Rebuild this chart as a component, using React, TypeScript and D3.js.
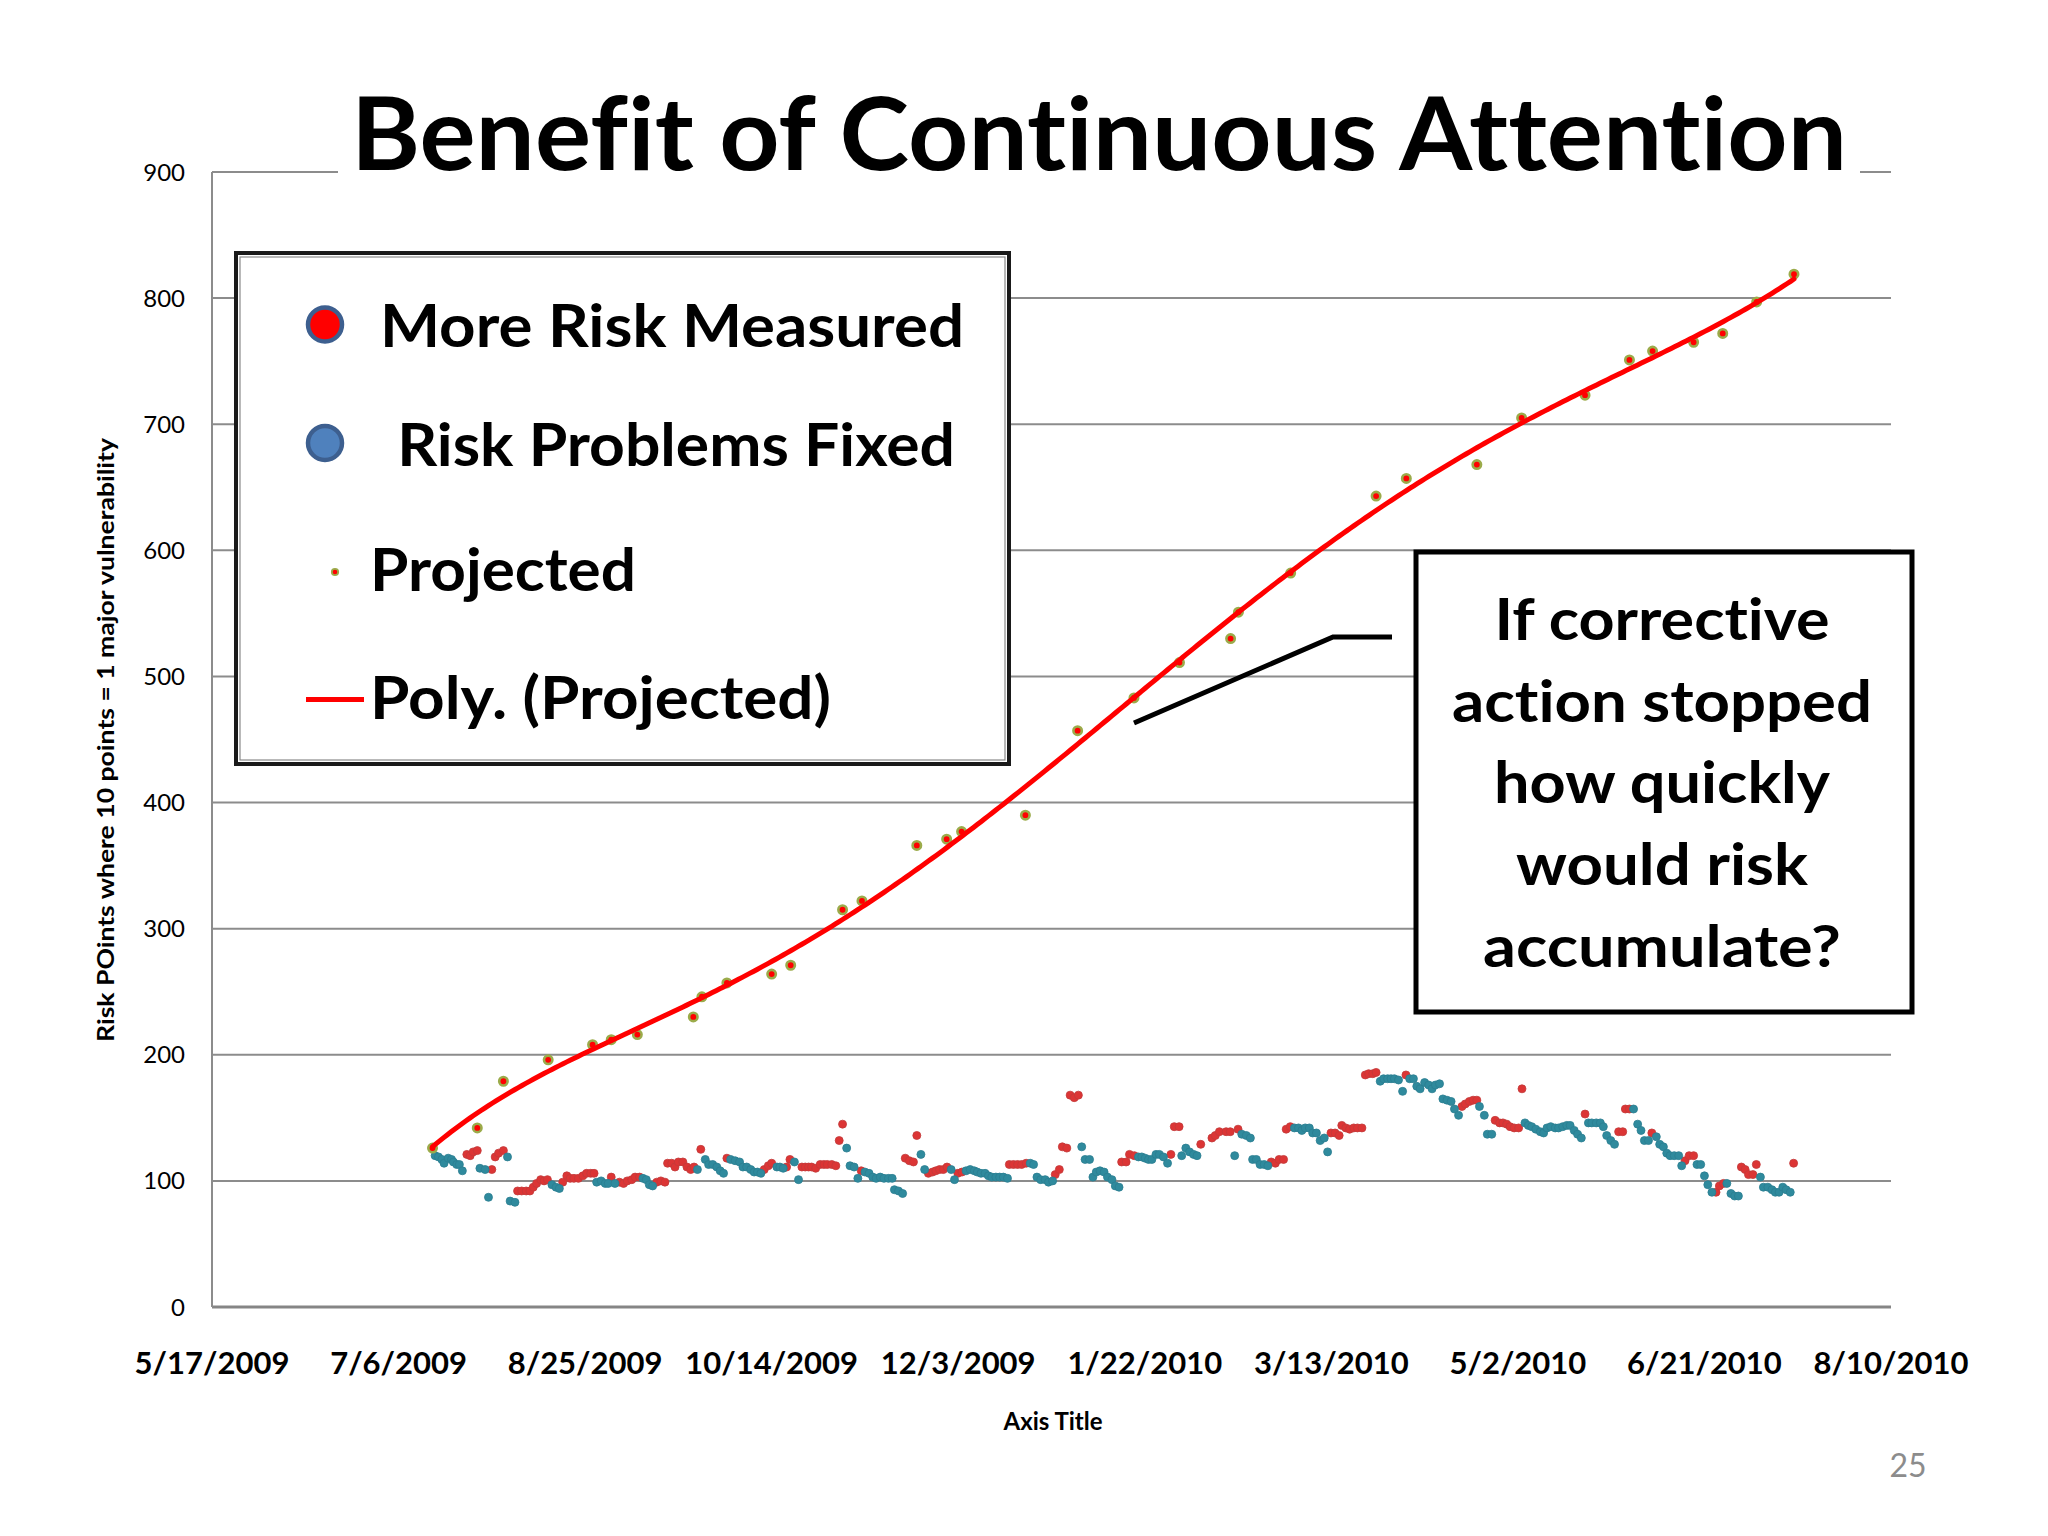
import { useRef, useEffect } from 'react';
import * as d3 from 'd3';

// days counted from 5/17/2009 (first x tick)
const START = Date.UTC(2009, 4, 17);
const DAY_MS = 864e5;
const dayToDate = (d: number) => new Date(START + d * DAY_MS);

const xTickLabels = ['5/17/2009', '7/6/2009', '8/25/2009', '10/14/2009', '12/3/2009', '1/22/2010', '3/13/2010', '5/2/2010', '6/21/2010', '8/10/2010'];
const yTicks = [0, 100, 200, 300, 400, 500, 600, 700, 800, 900];

const legendLabels = ['More Risk Measured', ' Risk Problems Fixed', 'Projected', 'Poly. (Projected)'];
const calloutLines = ['If corrective', 'action stopped', 'how quickly', 'would risk', 'accumulate?'];

// [day, risk points]
const moreRiskMeasured: [number, number][] = [
  [68.3, 121], [69.2, 120], [70.0, 123], [71.1, 124], [75.0, 109], [75.9, 119], [76.8, 122], [78.1, 124],
  [81.9, 92], [83.0, 92], [84.2, 92], [85.2, 92], [86.1, 95], [87.0, 98], [88.1, 101], [89.0, 100], [89.9, 101],
  [94.0, 99], [95.1, 104], [96.0, 102], [97.0, 102], [98.2, 102], [99.4, 104], [100.4, 106], [101.5, 106], [102.4, 106],
  [107.0, 103], [109.2, 99], [110.3, 98], [111.3, 100], [112.5, 101], [113.4, 103], [114.6, 103],
  [119.2, 99], [120.3, 100], [121.4, 99], [122.1, 114], [123.2, 114], [124.1, 111], [125.0, 115], [126.2, 115],
  [127.3, 111], [128.3, 109], [129.2, 111], [131.0, 125], [138.0, 118], [148.0, 109], [149.1, 112], [150.0, 114],
  [154.0, 111], [154.9, 117], [158.1, 111], [159.0, 111], [159.9, 111], [160.7, 111], [161.8, 110], [163.0, 113],
  [164.0, 113], [164.9, 113], [166.1, 113], [167.2, 112], [168.1, 132], [169.0, 145], [174.0, 108],
  [185.8, 118], [186.9, 116], [188.0, 115], [188.9, 136], [192.0, 106], [193.1, 107], [194.0, 108], [195.0, 109],
  [196.0, 109], [197.0, 111], [199.9, 106], [201.0, 107], [213.7, 113], [214.8, 113], [215.9, 113], [217.0, 113],
  [218.2, 114], [226.0, 105], [227.1, 109], [227.9, 127], [229.1, 126], [230.0, 168], [231.1, 166], [232.2, 168],
  [243.8, 115], [245.0, 115], [245.9, 121], [247.2, 120], [257.0, 121], [257.9, 143], [259.2, 143],
  [265.0, 129], [268.0, 134], [268.9, 136], [270.0, 139], [271.8, 139], [272.9, 139], [275.0, 141],
  [283.9, 115], [285.0, 114], [286.0, 117], [287.2, 117], [287.9, 141], [289.0, 143],
  [299.9, 138], [301.0, 138], [302.1, 136], [302.8, 144], [303.9, 142], [304.9, 141], [306.0, 142], [307.0, 142],
  [308.2, 142], [309.1, 184], [310.0, 185], [311.1, 185], [312.0, 186], [320.0, 184],
  [335.0, 159], [335.9, 161], [337.0, 163], [338.0, 164], [339.0, 164],
  [343.9, 148], [345.1, 146], [346.0, 146], [347.0, 145], [347.9, 143], [349.0, 142], [350.2, 142], [351.1, 173],
  [368.0, 153], [377.0, 139], [378.1, 139], [378.8, 157], [379.9, 157], [385.9, 138], [394.8, 116], [395.9, 120],
  [397.1, 120], [403.1, 91], [404.0, 96], [405.1, 98], [409.9, 111], [410.9, 109], [411.8, 105], [413.0, 105],
  [413.9, 113], [423.9, 114],
];

const riskProblemsFixed: [number, number][] = [
  [59.8, 120], [60.7, 119], [61.6, 117], [62.2, 114], [63.3, 118], [64.2, 117], [64.7, 115], [65.6, 113], [66.3, 113],
  [67.1, 108], [71.8, 110], [73.2, 109], [74.1, 87], [79.2, 119], [79.9, 84], [81.2, 83], [91.1, 97], [92.2, 95],
  [93.1, 94], [103.1, 99], [104.3, 100], [105.4, 98], [106.2, 98], [108.0, 98], [115.5, 102], [116.4, 101], [117.2, 97],
  [118.1, 96], [130.1, 109], [132.2, 117], [133.1, 113], [134.2, 113], [135.3, 111], [136.2, 108], [137.1, 106],
  [139.0, 117], [140.2, 116], [141.4, 115], [142.3, 111], [143.3, 111], [144.4, 109], [145.3, 107], [146.2, 107],
  [147.1, 106], [151.4, 111], [152.2, 111], [153.1, 110], [156.1, 115], [157.2, 101], [170.1, 126], [171.0, 112],
  [172.1, 111], [173.1, 102], [175.0, 107], [176.1, 106], [177.1, 103], [178.0, 102], [179.1, 103], [180.1, 102],
  [181.3, 102], [182.3, 102], [182.9, 93], [184.0, 92], [185.1, 90], [190.0, 121], [191.0, 109], [198.1, 109],
  [199.0, 101], [202.1, 108], [203.2, 109], [204.3, 108], [205.1, 107], [206.1, 106], [207.2, 106], [208.1, 104],
  [209.0, 103], [210.1, 103], [211.1, 103], [212.1, 103], [213.2, 102], [219.3, 114], [220.2, 113], [221.1, 103],
  [222.1, 101], [223.3, 101], [224.2, 99], [225.3, 100], [233.1, 127], [234.0, 117], [235.2, 117], [236.1, 103],
  [237.0, 107], [238.0, 108], [239.1, 107], [240.0, 103], [241.2, 101], [242.1, 96], [243.1, 95],
  [248.3, 119], [249.2, 119], [250.1, 118], [251.0, 117], [251.9, 117], [253.0, 121], [253.9, 121], [255.0, 119],
  [256.1, 114], [259.9, 120], [261.0, 126], [262.0, 123], [263.1, 121], [264.0, 120], [274.1, 120], [276.0, 137],
  [277.2, 136], [278.3, 134], [278.9, 117], [279.9, 117], [280.9, 113], [282.0, 113], [283.0, 112], [290.1, 142],
  [291.2, 142], [292.1, 140], [293.0, 142], [294.1, 142], [295.0, 138], [296.0, 138], [297.0, 132], [298.1, 134],
  [299.0, 123], [313.1, 179], [314.0, 181], [315.1, 181], [316.0, 181], [316.9, 181], [318.0, 180], [319.1, 171],
  [321.0, 181], [322.0, 181], [322.9, 175], [323.8, 173], [325.0, 178], [326.1, 176], [327.0, 173], [327.9, 176],
  [329.0, 177], [329.9, 165], [331.0, 164], [332.1, 163], [333.0, 157], [334.1, 152], [339.7, 159],
  [341.0, 152], [341.8, 137], [343.0, 137], [351.9, 146], [352.8, 144], [353.7, 143], [354.8, 141], [356.0, 139],
  [356.9, 138], [357.8, 142], [358.8, 143], [360.0, 142], [360.9, 142], [362.0, 143], [363.1, 144], [364.0, 144],
  [365.1, 140], [366.0, 137], [367.0, 134], [368.9, 146], [369.8, 146], [371.0, 146], [372.1, 146], [372.9, 143],
  [373.8, 136], [374.9, 132], [375.9, 129], [381.0, 157], [382.1, 145], [383.0, 140], [383.9, 132], [385.0, 132],
  [387.1, 135], [388.0, 129], [389.0, 127], [389.9, 122], [390.8, 120], [391.9, 120], [393.1, 120], [393.9, 112],
  [398.0, 113], [399.0, 113], [400.0, 104], [400.9, 97], [402.0, 91], [406.0, 98], [407.1, 90], [408.1, 88],
  [409.1, 88], [415.0, 103], [415.8, 95], [417.0, 95], [418.1, 93], [419.0, 91], [420.0, 91], [421.0, 95],
  [421.9, 93], [423.0, 91],
];

const projectedDays = [59.1, 71.1, 78.1, 90.1, 102.0, 107.0, 114.0, 129.0, 131.3, 138.0, 150.0, 155.1, 169.0, 174.2,
  188.9, 196.9, 200.9, 218.0, 232.0, 247.1, 259.3, 273.0, 275.1, 289.1, 312.0, 320.1, 339.0, 351.0, 368.0, 379.9,
  386.1, 397.1, 404.9, 414.0, 424.0];
const projectedValues = [126, 142, 179, 196, 208, 212, 216, 230, 246, 257, 264, 271, 315, 322, 366, 371, 377, 390,
  457, 483, 511, 530, 551, 582, 643, 657, 668, 705, 723, 751, 758, 765, 772, 797, 819];

const FONT = 'Lato, "Open Sans", sans-serif';

// least squares polynomial, like the Excel "Poly." trendline (order 6)
function polyFit(xs: number[], ys: number[], order: number) {
  const n = order + 1;
  const A = Array.from({ length: n }, () => new Array(n + 1).fill(0));
  xs.forEach((x, k) => {
    for (let i = 0; i < n; i++) {
      for (let j = 0; j < n; j++) A[i][j] += Math.pow(x, i + j);
      A[i][n] += Math.pow(x, i) * ys[k];
    }
  });
  for (let c = 0; c < n; c++) {
    let p = c;
    for (let r = c + 1; r < n; r++) if (Math.abs(A[r][c]) > Math.abs(A[p][c])) p = r;
    [A[c], A[p]] = [A[p], A[c]];
    for (let r = 0; r < n; r++) {
      if (r === c) continue;
      const f = A[r][c] / A[c][c];
      for (let k = c; k <= n; k++) A[r][k] -= f * A[c][k];
    }
  }
  return A.map((row, i) => row[n] / row[i]);
}

export default function App() {
  const svgRef = useRef<SVGSVGElement>(null);

  useEffect(() => {
    if (!svgRef.current) return;
    const W = 2048, H = 1536;
    const left = 212, right = 1891, top = 172, bottom = 1307;

    const svg = d3.select(svgRef.current);
    svg.selectAll('*').remove();
    svg.attr('width', W).attr('height', H)
      .style('font-variant-ligatures', 'none')
      .style('font-feature-settings', '"liga" 0, "clig" 0');

    svg.append('rect').attr('width', W).attr('height', H).attr('fill', '#fff');

    const parse = d3.utcParse('%m/%d/%Y');
    const tickDates = xTickLabels.map(l => parse(l) as Date);

    const x = d3.scaleUtc()
      .domain([tickDates[0], tickDates[tickDates.length - 1]])
      .range([left, right]);
    const y = d3.scaleLinear().domain([0, 900]).range([bottom, top]);

    // gridlines
    yTicks.forEach(t => {
      svg.append('line')
        .attr('x1', left).attr('x2', right)
        .attr('y1', y(t)).attr('y2', y(t))
        .attr('stroke', t === 0 ? '#858585' : '#8c8c8c')
        .attr('stroke-width', t === 0 ? 3 : 2);
    });
    svg.append('line')
      .attr('x1', left).attr('x2', left)
      .attr('y1', y(900)).attr('y2', y(0))
      .attr('stroke', '#8c8c8c').attr('stroke-width', 2);

    // y tick labels
    yTicks.forEach(t => {
      svg.append('text')
        .attr('x', 185).attr('y', y(t) + 8.5)
        .attr('text-anchor', 'end')
        .attr('font-family', FONT).attr('font-size', 24)
        .attr('fill', '#000')
        .text(t);
    });

    // x tick labels
    tickDates.forEach((d, i) => {
      svg.append('text')
        .attr('x', x(d)).attr('y', 1374)
        .attr('text-anchor', 'middle')
        .attr('font-family', FONT).attr('font-size', 31).attr('font-weight', 700)
        .text(xTickLabels[i]);
    });

    svg.append('text')
      .attr('x', 1053).attr('y', 1430)
      .attr('text-anchor', 'middle')
      .attr('font-family', FONT).attr('font-size', 24).attr('font-weight', 700)
      .text('Axis Title');

    svg.append('text')
      .attr('transform', 'translate(114,740) rotate(-90)')
      .attr('text-anchor', 'middle')
      .attr('font-family', FONT).attr('font-size', 22.5).attr('font-weight', 700)
      .attr('textLength', 604).attr('lengthAdjust', 'spacingAndGlyphs')
      .text('Risk POints where 10 points = 1 major vulnerability');

    // title over the top gridline
    svg.append('rect').attr('x', 338).attr('y', 80).attr('width', 1522).attr('height', 100).attr('fill', '#fff');
    svg.append('text')
      .attr('x', 351).attr('y', 170)
      .attr('font-family', FONT).attr('font-size', 102).attr('font-weight', 700)
      .attr('textLength', 1496).attr('lengthAdjust', 'spacingAndGlyphs')
      .text('Benefit of Continuous Attention');

    // measured series
    svg.append('g').selectAll('circle')
      .data(moreRiskMeasured)
      .join('circle')
      .attr('cx', d => x(dayToDate(d[0])))
      .attr('cy', d => y(d[1]))
      .attr('r', 4)
      .attr('fill', '#dc3535')
      .attr('stroke', '#c23a3a').attr('stroke-width', 0.8);

    svg.append('g').selectAll('circle')
      .data(riskProblemsFixed)
      .join('circle')
      .attr('cx', d => x(dayToDate(d[0])))
      .attr('cy', d => y(d[1]))
      .attr('r', 4)
      .attr('fill', '#2f8a9d')
      .attr('stroke', '#2b7d90').attr('stroke-width', 0.8);

    // projected
    svg.append('g').selectAll('circle')
      .data(projectedDays.map((d, i) => [d, projectedValues[i]]))
      .join('circle')
      .attr('cx', d => x(dayToDate(d[0])))
      .attr('cy', d => y(d[1]))
      .attr('r', 4.2)
      .attr('fill', '#ff0000')
      .attr('stroke', '#9bab4a').attr('stroke-width', 2.6);

    // trendline
    const t0 = 240, ts = 185;
    const coef = polyFit(projectedDays.map(d => (d - t0) / ts), projectedValues, 6);
    const evalPoly = (d: number) => {
      const t = (d - t0) / ts;
      return coef.reduce((s, c, i) => s + c * Math.pow(t, i), 0);
    };
    const first = projectedDays[0], last = projectedDays[projectedDays.length - 1];
    const trendDays = d3.range(first, last, 1).concat([last]);
    const line = d3.line<number>()
      .x(d => x(dayToDate(d)))
      .y(d => y(evalPoly(d)));
    svg.append('path')
      .datum(trendDays)
      .attr('d', line)
      .attr('fill', 'none')
      .attr('stroke', '#ff0000')
      .attr('stroke-width', 5)
      .attr('stroke-linecap', 'round');

    // legend
    const lg = svg.append('g');
    lg.append('rect')
      .attr('x', 236).attr('y', 253).attr('width', 773).attr('height', 511)
      .attr('fill', '#fff').attr('stroke', '#1a1a1a').attr('stroke-width', 4);
    lg.append('rect')
      .attr('x', 240).attr('y', 257).attr('width', 765).attr('height', 503)
      .attr('fill', 'none').attr('stroke', '#8a8a8a').attr('stroke-width', 1.2);

    lg.append('circle').attr('cx', 325).attr('cy', 324.5).attr('r', 17)
      .attr('fill', '#ff0000').attr('stroke', '#3d5f8f').attr('stroke-width', 4.5);
    lg.append('circle').attr('cx', 325).attr('cy', 443).attr('r', 17)
      .attr('fill', '#4f81bd').attr('stroke', '#3d5f8f').attr('stroke-width', 4.5);
    lg.append('circle').attr('cx', 335).attr('cy', 572).attr('r', 3.2)
      .attr('fill', '#ff0000').attr('stroke', '#9bab4a').attr('stroke-width', 1.8);
    lg.append('line').attr('x1', 306).attr('x2', 364).attr('y1', 699.5).attr('y2', 699.5)
      .attr('stroke', '#ff0000').attr('stroke-width', 5);

    const legendPos = [
      { x: 380, y: 347, w: 584 },
      { x: 382, y: 466, w: 573 },
      { x: 370, y: 591, w: 266 },
      { x: 370, y: 719, w: 461 },
    ];
    legendLabels.forEach((label, i) => {
      lg.append('text')
        .attr('x', legendPos[i].x).attr('y', legendPos[i].y)
        .attr('font-family', FONT).attr('font-size', 60).attr('font-weight', 700)
        .attr('textLength', legendPos[i].w).attr('lengthAdjust', 'spacingAndGlyphs')
        .attr('xml:space', 'preserve')
        .style('white-space', 'pre')
        .text(label);
    });

    // callout
    const cg = svg.append('g');
    cg.append('polyline')
      .attr('points', '1134,723 1333,637 1392,637')
      .attr('fill', 'none').attr('stroke', '#000').attr('stroke-width', 5);
    cg.append('rect')
      .attr('x', 1416).attr('y', 552).attr('width', 496).attr('height', 460)
      .attr('fill', '#fff').attr('stroke', '#000').attr('stroke-width', 5);
    const calloutW = [335, 420, 336, 292, 358];
    calloutLines.forEach((l, i) => {
      cg.append('text')
        .attr('x', 1662).attr('y', 640 + i * 81.7)
        .attr('text-anchor', 'middle')
        .attr('font-family', FONT).attr('font-size', 58).attr('font-weight', 700)
        .attr('textLength', calloutW[i]).attr('lengthAdjust', 'spacingAndGlyphs')
        .text(l);
    });

    // slide number
    svg.append('text')
      .attr('x', 1908).attr('y', 1477)
      .attr('text-anchor', 'middle')
      .attr('font-family', FONT).attr('font-size', 32)
      .attr('fill', '#8c8c8c')
      .text('25');
  }, []);

  return (
    <svg ref={svgRef} style={{ position: 'absolute', left: 0, top: 0, display: 'block' }} />
  );
}
